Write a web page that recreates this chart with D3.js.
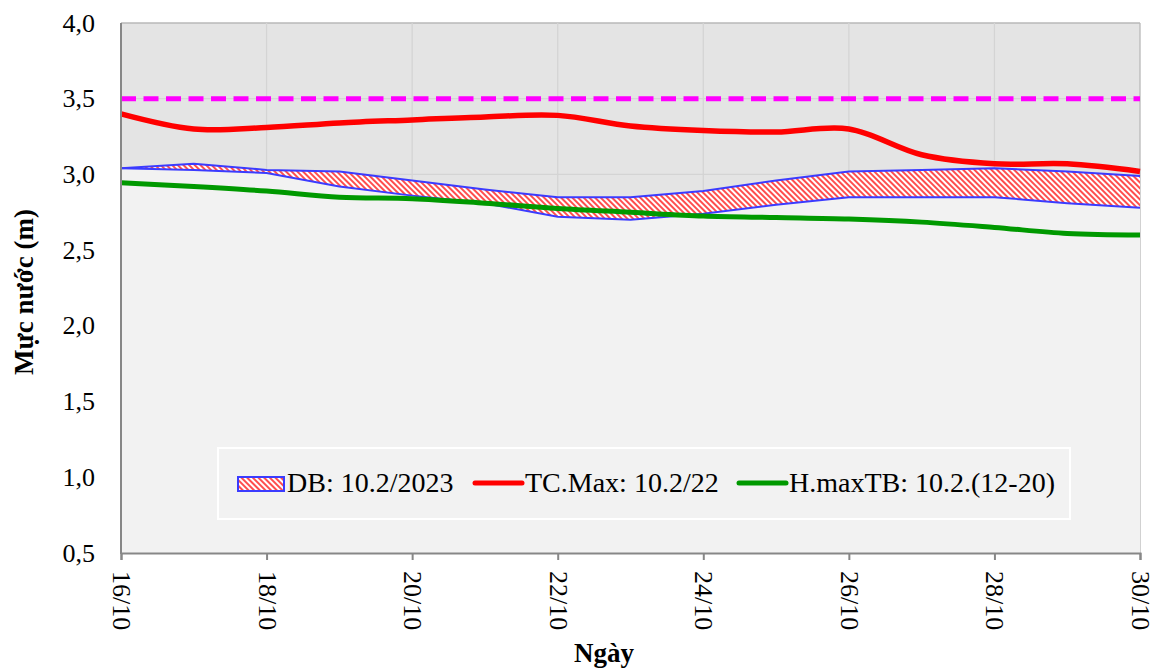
<!DOCTYPE html>
<html>
<head>
<meta charset="utf-8">
<script src="https://cdn.jsdelivr.net/npm/d3@7"></script>
<style>
  body { margin: 0; background: #fff; }
</style>
</head>
<body>
<div id="chart"></div>
<script>
const width = 1158;
const height = 670;
const serif = "Liberation Serif";

// data
const days = [16, 17, 18, 19, 20, 21, 22, 23, 24, 25, 26, 27, 28, 29, 30];
const tickDays = [16, 18, 20, 22, 24, 26, 28, 30];
const tickLabels = ["16/10", "18/10", "20/10", "22/10", "24/10", "26/10", "28/10", "30/10"];
const yTicks = [0.5, 1.0, 1.5, 2.0, 2.5, 3.0, 3.5, 4.0];

const dbUpper = [3.04, 3.07, 3.03, 3.02, 2.96, 2.90, 2.85, 2.85, 2.89, 2.96, 3.02, 3.03, 3.04, 3.02, 2.99];
const dbLower = [3.04, 3.03, 3.01, 2.92, 2.86, 2.81, 2.72, 2.70, 2.74, 2.80, 2.85, 2.85, 2.85, 2.81, 2.78];
const tcMax = [3.40, 3.30, 3.31, 3.34, 3.36, 3.38, 3.39, 3.32, 3.29, 3.28, 3.30, 3.13, 3.07, 3.07, 3.02];
const hMaxTB = [2.945, 2.92, 2.89, 2.85, 2.84, 2.81, 2.775, 2.75, 2.725, 2.715, 2.705, 2.685, 2.65, 2.61, 2.60];
const alarmLevel = [3.5, 3.5];
const alarmDays = [16, 30];

const legendLabels = ["DB: 10.2/2023", "TC.Max: 10.2/22", "H.maxTB: 10.2.(12-20)"];

const margin = { left: 121, right: 18, top: 23, bottom: 117 };
const x = d3.scaleLinear().domain([16, 30]).range([margin.left, width - margin.right]);
const y = d3.scaleLinear().domain([0.5, 4.0]).range([height - margin.bottom, margin.top]);

const svg = d3.select("#chart").append("svg")
  .attr("width", width)
  .attr("height", height)
  .attr("font-family", serif);

const defs = svg.append("defs");
const pat = defs.append("pattern")
  .attr("id", "hatch")
  .attr("patternUnits", "userSpaceOnUse")
  .attr("width", 4)
  .attr("height", 4)
  .attr("patternTransform", "rotate(-45)");
pat.append("rect").attr("width", 4).attr("height", 4).attr("fill", "#fff");
pat.append("line")
  .attr("x1", 1).attr("y1", 0).attr("x2", 1).attr("y2", 4)
  .attr("stroke", "#ff2020").attr("stroke-width", 1.6);

const x0 = x(16), x1 = x(30), yTop = y(4.0), yBot = y(0.5);

// plot background
svg.append("rect")
  .attr("x", x0).attr("y", yTop)
  .attr("width", x1 - x0).attr("height", yBot - yTop)
  .attr("fill", "#e4e4e4");

// gridlines
svg.append("g").selectAll("line")
  .data(yTicks.slice(1))
  .join("line")
  .attr("x1", x0).attr("x2", x1)
  .attr("y1", d => y(d)).attr("y2", d => y(d))
  .attr("stroke", d => d === 4.0 ? "#b8b8b8" : "#d4d4d4")
  .attr("stroke-width", 1.3);

svg.append("g").selectAll("line")
  .data(tickDays.slice(1))
  .join("line")
  .attr("x1", d => x(d)).attr("x2", d => x(d))
  .attr("y1", yTop).attr("y2", yBot)
  .attr("stroke", d => d === 30 ? "#b8b8b8" : "#d4d4d4")
  .attr("stroke-width", 1.3);

const pts = arr => days.map((d, i) => [d, arr[i]]);

// lower area (below band)
svg.append("path")
  .datum(pts(dbLower))
  .attr("fill", "#f2f2f2")
  .attr("d", d3.area().x(d => x(d[0])).y0(yBot).y1(d => y(d[1])));

// band
svg.append("path")
  .datum(days.map((d, i) => [d, dbLower[i], dbUpper[i]]))
  .attr("fill", "url(#hatch)")
  .attr("d", d3.area().x(d => x(d[0])).y0(d => y(d[1])).y1(d => y(d[2])));

const straight = d3.line().x(d => x(d[0])).y(d => y(d[1]));
[dbUpper, dbLower].forEach(arr => {
  svg.append("path")
    .datum(pts(arr))
    .attr("fill", "none")
    .attr("stroke", "#3b3bff")
    .attr("stroke-width", 2)
    .attr("d", straight);
});

const smooth = d3.line().x(d => x(d[0])).y(d => y(d[1])).curve(d3.curveCatmullRom.alpha(0.5));

svg.append("path")
  .datum(pts(hMaxTB))
  .attr("fill", "none")
  .attr("stroke", "#009900")
  .attr("stroke-width", 5)
  .attr("d", smooth);

svg.append("path")
  .datum(pts(tcMax))
  .attr("fill", "none")
  .attr("stroke", "#ff0000")
  .attr("stroke-width", 5.5)
  .attr("d", smooth);

svg.append("path")
  .datum(alarmDays.map((d, i) => [d, alarmLevel[i]]))
  .attr("fill", "none")
  .attr("stroke", "#ff00ff")
  .attr("stroke-width", 5)
  .attr("stroke-dasharray", "15,7.5")
  .attr("d", straight);

// axes
svg.append("line")
  .attr("x1", x0).attr("x2", x0).attr("y1", yTop).attr("y2", yBot + 1)
  .attr("stroke", "#878787").attr("stroke-width", 2);

const xAxis = svg.append("g")
  .attr("transform", `translate(0,${yBot})`)
  .call(d3.axisBottom(x).tickValues(tickDays).tickSize(7).tickFormat((d, i) => tickLabels[i]))
  .attr("font-family", serif);
xAxis.select(".domain").attr("stroke", "#878787").attr("stroke-width", 2);
xAxis.selectAll(".tick line").attr("stroke", "#878787").attr("stroke-width", 2);
xAxis.selectAll(".tick text")
  .style("font-family", serif)
  .attr("font-size", 26)
  .attr("fill", "#000")
  .attr("text-anchor", "start")
  .attr("dominant-baseline", "central")
  .attr("x", 0).attr("y", 0).attr("dy", null)
  .attr("transform", "translate(0,18) rotate(90)");

svg.append("g").selectAll("text")
  .data(yTicks)
  .join("text")
  .style("font-family", serif)
  .attr("x", 95)
  .attr("y", d => y(d))
  .attr("text-anchor", "end")
  .attr("dominant-baseline", "central")
  .attr("font-size", 26)
  .text(d => d3.format(".1f")(d).replace(".", ","));

// axis titles
svg.append("text")
  .style("font-family", serif)
  .attr("x", 604).attr("y", 662)
  .attr("text-anchor", "middle")
  .attr("font-size", 27)
  .attr("font-weight", "bold")
  .text("Ngày");

svg.append("text")
  .style("font-family", serif)
  .attr("transform", "translate(33,292) rotate(-90)")
  .attr("text-anchor", "middle")
  .attr("font-size", 27)
  .attr("font-weight", "bold")
  .text("Mực nước (m)");

// legend
const legend = svg.append("g");
legend.append("rect")
  .attr("x", 218).attr("y", 448)
  .attr("width", 852).attr("height", 71)
  .attr("fill", "#f2f2f2")
  .attr("stroke", "#fff")
  .attr("stroke-width", 2);

legend.append("rect")
  .attr("x", 238).attr("y", 477)
  .attr("width", 46).attr("height", 14)
  .attr("fill", "url(#hatch)")
  .attr("stroke", "#3b3bff")
  .attr("stroke-width", 2);

legend.append("line")
  .attr("x1", 475).attr("x2", 522).attr("y1", 483).attr("y2", 483)
  .attr("stroke", "#ff0000").attr("stroke-width", 5).attr("stroke-linecap", "round");

legend.append("line")
  .attr("x1", 739).attr("x2", 786).attr("y1", 483).attr("y2", 483)
  .attr("stroke", "#009900").attr("stroke-width", 5).attr("stroke-linecap", "round");

legend.selectAll("text.lbl")
  .data(legendLabels)
  .join("text")
  .attr("class", "lbl")
  .style("font-family", serif)
  .attr("x", (d, i) => [287, 525, 789][i])
  .attr("y", 492)
  .attr("font-size", 28)
  .text(d => d);
</script>
</body>
</html>
